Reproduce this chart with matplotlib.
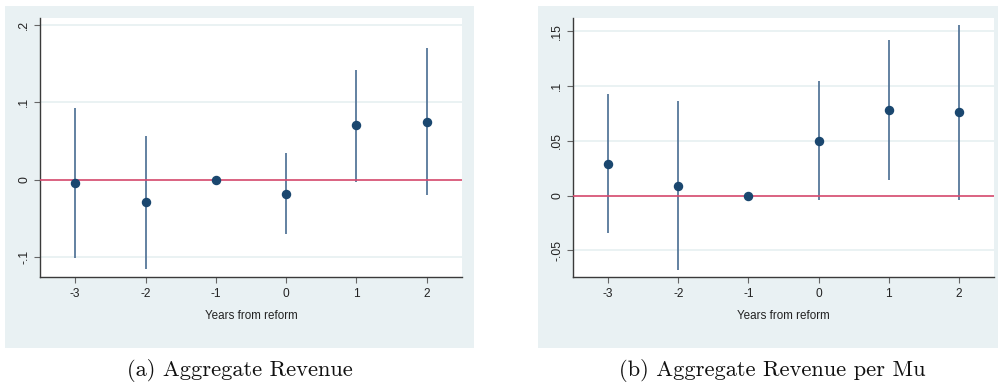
import matplotlib
matplotlib.use("Agg")
import matplotlib.pyplot as plt
from matplotlib.patches import Rectangle

# Event-study estimates with 95% confidence intervals
years = [-3, -2, -1, 0, 1, 2]

rev_coef = [-0.005, -0.029, 0.0, -0.018, 0.070, 0.075]
rev_lo = [-0.101, -0.116, 0.0, -0.071, -0.003, -0.020]
rev_hi = [0.092, 0.057, 0.0, 0.034, 0.142, 0.170]
rev_yticks = [-0.1, 0.0, 0.1, 0.2]
rev_yticklabels = ["-.1", "0", ".1", ".2"]

mu_coef = [0.029, 0.009, 0.0, 0.050, 0.078, 0.076]
mu_lo = [-0.034, -0.068, 0.0, -0.004, 0.014, -0.004]
mu_hi = [0.093, 0.086, 0.0, 0.105, 0.142, 0.156]
mu_yticks = [-0.05, 0.0, 0.05, 0.10, 0.15]
mu_yticklabels = ["-.05", "0", ".05", ".1", ".15"]

xlabel = "Years from reform"
captions = ["(a) Aggregate Revenue", "(b) Aggregate Revenue per Mu"]

BG = "#e9f1f3"
NAVY = "#1a476f"
BAR = "#56779a"
RED = "#d94a6e"
AXC = "#3a3a3a"

W, H = 998, 382
fig = plt.figure(figsize=(W / 100, H / 100), dpi=100)


def px_box(x0, y0, x1, y1):
    return [x0 / W, 1 - y1 / H, (x1 - x0) / W, (y1 - y0) / H]


def panel(bg_box, ax_box, coef, lo, hi, yticks, yticklabels, ylim, caption, cap_x):
    b = px_box(*bg_box)
    fig.patches.append(Rectangle((b[0], b[1]), b[2], b[3], transform=fig.transFigure,
                                 facecolor=BG, edgecolor="none", zorder=-5))
    ax = fig.add_axes(px_box(*ax_box))
    ax.set_zorder(2)
    ax.set_facecolor("white")
    ax.set_xlim(-3.5, 2.5)
    ax.set_ylim(*ylim)
    ax.set_yticks(yticks)
    ax.set_yticklabels(yticklabels, rotation=90, va="center",
                       family="Liberation Sans", fontsize=8.8, color="#222222")
    ax.set_xticks(years)
    ax.set_xticklabels([str(y) for y in years], family="Liberation Sans",
                       fontsize=8.6, color="#222222")
    for t in yticks:
        ax.axhline(t, color="#eaf2f3", lw=1.4, zorder=0.5)
    for s in ["top", "right"]:
        ax.spines[s].set_visible(False)
    for s in ["left", "bottom"]:
        ax.spines[s].set_color(AXC)
        ax.spines[s].set_linewidth(1.0)
    ax.tick_params(axis="both", direction="out", length=4, width=0.8,
                   color="#666666")
    ax.tick_params(axis="y", pad=3)
    ax.tick_params(axis="x", pad=4)
    ax.vlines(years, lo, hi, color=BAR, lw=1.3, zorder=2)
    ax.axhline(0, color=RED, lw=1.2, zorder=3)
    ax.plot(years, coef, "o", color=NAVY, ms=5.8, zorder=4, mec=NAVY)
    ax.set_xlabel(xlabel, family="Liberation Sans", fontsize=8.4, color="#222222",
                  labelpad=7)
    fig.text(cap_x / W, 1 - 371 / H, caption, ha="center", va="center",
             family="cmr10", fontsize=16.2, color="#111111")
    return ax


panel((5, 6, 474, 348), (40, 18, 462, 277), rev_coef, rev_lo, rev_hi,
      rev_yticks, rev_yticklabels, (-0.126, 0.209), captions[0], 240)
panel((538, 6, 998, 348), (573, 18, 994, 277), mu_coef, mu_lo, mu_hi,
      mu_yticks, mu_yticklabels, (-0.0745, 0.1623), captions[1], 772)

fig.savefig("out.png", dpi=100, facecolor="white")
